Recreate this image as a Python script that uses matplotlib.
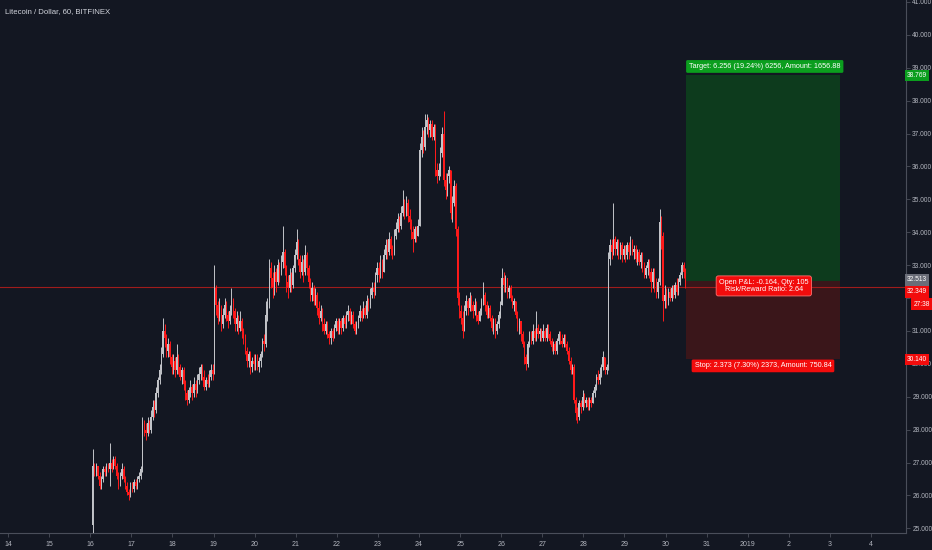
import matplotlib
matplotlib.use('Agg')
import matplotlib.pyplot as plt
import numpy as np

# ---------------- data ----------------
title = "Litecoin / Dollar, 60, BITFINEX"
start_day = 16      # December 16
start_hour = 1      # first candle 01:00
first_open = 25.1

close = [
    # Dec 16 (01h-23h)
    26.9,26.7,26.9,26.6,26.3,26.5,26.8,26.7,26.9,26.8,27.0,26.8,27.1,26.9,26.6,26.3,26.6,26.8,26.5,26.3,26.1,26.0,26.3,
    # Dec 17
    26.2,26.4,26.3,26.5,26.6,26.8,28.2,28.0,27.9,28.2,28.0,28.4,28.7,28.6,29.1,29.5,29.8,30.3,31.0,30.8,30.4,30.6,30.2,29.9,
    # Dec 18
    30.1,29.8,30.2,29.9,29.6,29.8,29.4,29.1,28.9,29.2,29.3,29.1,29.4,29.2,29.5,29.7,29.9,29.6,29.3,29.5,29.4,29.6,29.8,29.7,
    # Dec 19
    32.3,31.8,31.4,31.7,31.2,31.5,31.8,31.5,31.3,31.6,31.9,31.6,31.2,31.4,31.1,31.3,31.0,30.8,30.4,30.1,30.3,29.9,30.1,30.0,
    # Dec 20
    30.2,29.9,30.1,30.3,30.7,30.6,31.5,31.8,32.9,32.6,32.3,32.8,32.5,33.0,32.8,33.1,33.4,32.9,32.5,32.3,32.7,32.4,32.9,33.3,
    # Dec 21
    33.7,33.2,32.8,33.1,32.8,33.3,32.9,32.5,32.1,32.3,31.9,32.1,31.7,31.4,31.6,31.2,31.0,31.2,30.9,30.8,31.0,30.8,31.1,31.3,
    # Dec 22
    31.0,31.3,31.1,31.4,31.2,31.5,31.6,31.3,31.5,31.2,31.0,31.2,31.4,31.6,31.4,31.7,31.5,31.9,31.8,32.1,32.3,32.2,32.7,32.9,
    # Dec 23
    32.7,33.1,32.8,33.3,33.6,33.4,33.8,33.5,33.3,33.9,34.1,34.4,34.2,34.6,34.8,34.6,34.9,34.5,34.3,34.0,33.8,34.1,33.9,34.2,
    # Dec 24
    36.5,36.9,36.6,37.2,37.4,37.1,37.3,36.9,37.2,35.9,35.7,35.9,36.4,37.0,35.6,35.3,35.7,35.9,34.6,34.9,35.4,34.1,32.0,31.6,
    # Dec 25
    31.4,31.0,31.6,31.9,31.7,32.0,31.8,31.6,31.8,31.5,31.3,31.6,31.9,32.1,31.8,31.5,31.7,31.4,31.1,31.3,31.0,31.2,31.5,31.8,
    # Dec 26
    32.6,32.4,32.6,32.2,32.3,32.0,31.8,31.9,31.5,31.1,31.3,30.9,30.6,30.2,30.0,30.6,30.9,30.7,31.0,30.8,31.1,30.9,31.0,30.8,
    # Dec 27
    31.0,30.8,31.1,30.9,30.7,30.5,30.6,30.4,30.7,30.9,30.7,30.6,30.8,30.6,30.4,30.1,29.8,29.9,28.9,28.5,28.4,28.8,28.7,29.0,
    # Dec 28
    28.8,28.9,28.7,28.9,28.8,29.1,29.3,29.6,29.5,29.7,29.9,30.2,29.8,29.9,33.2,33.6,33.4,33.8,33.5,33.7,33.4,33.6,33.3,33.5,
    # Dec 29
    33.3,33.6,33.4,33.7,33.4,33.5,33.2,33.4,33.1,33.3,33.0,32.7,32.9,33.1,32.8,32.5,32.8,32.4,32.2,32.5,34.3,33.9,31.9,32.1,
    # Dec 30 (00h-11h)
    31.9,32.2,32.0,32.3,32.1,32.4,32.2,32.5,32.7,33.0,32.8,32.349,
]

high = [
    27.4,27.0,27.0,26.9,26.7,26.6,26.9,26.9,27.0,27.0,27.6,27.1,27.2,27.2,27.0,26.7,26.7,27.0,26.9,26.6,26.4,26.2,26.4,
    26.4,26.5,26.5,26.6,26.7,26.9,28.4,28.3,28.2,28.4,28.3,28.6,28.9,28.9,29.3,29.6,30.0,30.5,31.4,31.2,30.9,30.8,30.7,30.3,
    30.3,30.2,30.6,30.3,30.0,29.9,29.9,29.5,29.2,29.3,29.5,29.4,29.6,29.5,29.7,29.9,30.0,30.0,29.8,29.6,29.7,29.8,30.0,30.0,
    33.0,32.4,31.9,32.0,31.8,31.7,32.0,31.9,31.6,31.8,32.3,32.0,31.7,31.6,31.5,31.6,31.4,31.1,30.9,30.5,30.4,30.4,30.2,30.3,
    30.3,30.3,30.2,30.4,30.8,30.9,31.9,32.0,33.2,33.1,32.8,33.0,32.9,33.2,33.1,33.3,34.2,33.5,33.0,32.7,32.9,32.8,33.0,33.5,
    34.1,33.8,33.3,33.3,33.2,33.6,33.4,33.0,32.6,32.5,32.4,32.3,32.2,31.9,31.8,31.7,31.4,31.3,31.3,31.0,31.1,31.1,31.2,31.4,
    31.4,31.4,31.4,31.5,31.5,31.6,31.8,31.7,31.6,31.6,31.3,31.3,31.5,31.8,31.7,31.9,31.8,32.1,32.0,32.3,32.5,32.5,32.8,33.1,
    33.1,33.3,33.2,33.5,33.8,33.8,34.0,33.9,33.6,34.1,34.3,34.6,34.5,34.8,35.3,35.0,35.1,35.0,34.7,34.4,34.2,34.2,34.2,34.4,
    36.7,37.2,37.1,37.6,37.6,37.5,37.4,37.4,37.3,37.3,36.1,36.1,36.6,37.2,37.7,35.8,35.8,36.0,35.9,35.1,35.6,35.5,34.2,32.2,
    31.8,31.6,31.8,32.1,32.0,32.2,32.1,31.9,32.0,31.9,31.6,31.7,32.0,32.5,32.2,31.9,31.8,31.8,31.5,31.4,31.4,31.3,31.6,31.9,
    32.9,32.8,32.7,32.6,32.4,32.4,32.1,32.0,31.9,31.6,31.4,31.3,31.0,30.7,30.3,30.7,31.0,31.0,31.2,31.1,31.6,31.2,31.1,31.1,
    31.2,31.1,31.2,31.2,31.0,30.8,30.7,30.7,30.8,31.0,31.0,30.9,30.9,30.9,30.7,30.5,30.2,30.0,30.0,29.0,28.7,28.9,28.9,29.2,
    29.1,29.0,29.0,29.0,29.0,29.2,29.4,29.7,29.8,29.9,30.0,30.4,30.2,30.0,33.4,33.8,33.8,34.9,33.9,33.8,33.8,33.7,33.7,33.6,
    33.6,33.7,33.7,33.9,33.8,33.6,33.6,33.5,33.5,33.4,33.4,33.1,33.0,33.2,33.2,32.9,32.9,32.9,32.6,32.6,34.7,34.5,34.0,32.4,
    32.3,32.3,32.3,32.4,32.4,32.5,32.6,32.6,32.8,33.1,33.1,32.9,
]

low = [
    24.85,26.6,26.6,26.5,26.2,26.2,26.4,26.6,26.6,26.7,26.3,26.7,26.8,26.8,26.5,26.2,26.3,26.5,26.4,26.2,26.0,25.85,25.95,
    26.1,26.1,26.2,26.2,26.4,26.5,26.7,27.8,27.7,27.8,27.9,27.9,28.3,28.4,28.5,29.0,29.4,29.7,30.2,30.5,30.2,30.2,30.0,29.7,
    29.7,29.6,29.7,29.7,29.5,29.4,29.2,28.9,28.75,28.8,29.0,28.9,29.0,29.0,29.1,29.4,29.5,29.5,29.2,29.2,29.3,29.3,29.5,29.5,
    29.7,31.5,31.2,31.3,31.0,31.1,31.4,31.3,31.1,31.2,31.5,31.4,31.0,31.0,30.9,31.0,30.8,30.6,30.3,29.9,29.9,29.7,29.75,29.8,
    29.8,29.8,29.75,29.9,30.2,30.4,30.5,31.3,31.7,32.3,32.0,32.1,32.2,32.4,32.5,32.7,32.9,32.7,32.2,32.0,32.2,32.2,32.3,32.8,
    33.2,33.0,32.6,32.7,32.5,32.7,32.7,32.3,31.9,31.9,31.8,31.8,31.5,31.2,31.3,31.0,30.9,30.9,30.8,30.6,30.6,30.7,30.8,31.0,
    30.9,30.9,30.9,31.0,31.1,31.1,31.3,31.2,31.2,31.1,30.9,30.9,31.1,31.3,31.3,31.4,31.4,31.4,31.6,31.7,32.0,32.0,32.1,32.5,
    32.5,32.6,32.6,32.8,33.2,33.2,33.3,33.3,33.2,33.3,33.8,34.0,34.0,34.1,34.5,34.4,34.5,34.3,34.1,33.8,33.4,33.7,33.7,33.9,
    34.2,36.3,36.4,36.5,37.0,36.9,36.9,36.8,36.8,35.7,35.5,35.6,35.7,36.3,35.4,35.0,35.1,35.5,34.4,34.3,34.8,33.9,31.8,31.4,
    31.2,30.8,31.0,31.5,31.5,31.6,31.6,31.4,31.5,31.3,31.2,31.3,31.5,31.8,31.6,31.4,31.4,31.3,31.0,30.9,30.8,30.9,31.1,31.4,
    31.8,32.2,32.2,32.0,32.0,31.9,31.7,31.6,31.4,31.0,30.9,30.7,30.5,30.0,29.8,29.9,30.5,30.6,30.6,30.7,30.7,30.8,30.7,30.7,
    30.7,30.7,30.7,30.8,30.6,30.4,30.3,30.3,30.3,30.6,30.6,30.5,30.5,30.5,30.3,30.0,29.7,29.7,28.8,28.3,28.2,28.3,28.5,28.6,
    28.7,28.7,28.6,28.6,28.7,28.8,29.0,29.2,29.4,29.4,29.6,29.8,29.7,29.7,29.8,33.0,33.2,33.3,33.3,33.3,33.2,33.2,33.1,33.2,
    33.1,33.2,33.2,33.3,33.3,33.2,33.1,33.0,33.0,32.9,32.8,32.6,32.6,32.7,32.6,32.2,32.3,32.2,32.0,32.0,32.4,33.5,31.3,31.7,
    31.7,31.8,31.9,31.9,32.0,32.0,32.1,32.1,32.4,32.6,32.6,32.3,
]

price_ticks = [25, 26, 27, 28, 29, 30, 31, 32, 33, 34, 35, 36, 37, 38, 39, 40, 41]
day_ticks = list(range(14, 36))
day_labels = ['14', '15', '16', '17', '18', '19', '20', '21', '22', '23', '24', '25',
              '26', '27', '28', '29', '30', '31', '2019', '2', '3', '4']

entry_price = 32.513
target_price = 38.769
stop_price = 30.140
last_price = 32.349
pos_start_day = 30.5
pos_end_day = 34.24

target_text = "Target: 6.256 (19.24%) 6256, Amount: 1656.88"
pnl_text = "Open P&L: -0.164, Qty: 105\nRisk/Reward Ratio: 2.64"
stop_text = "Stop: 2.373 (7.30%) 2373, Amount: 750.84"
countdown = "27:38"

# ---------------- style ----------------
bg = '#131722'
up_col = '#c2c4c9'
dn_col = '#ff1a1a'
txt_col = '#b2b5be'
axis_col = '#4a4e5a'
fam = ['Liberation Sans', 'DejaVu Sans']
axis_fs = 4.8
box_fs = 5.2

fig = plt.figure(figsize=(9.32, 5.5), dpi=100, facecolor=bg)
ax = fig.add_axes([0, 17 / 550, 906 / 932, 533 / 550])
ax.set_facecolor(bg)
ax.set_xlim(13.805, 35.85)
ax.set_ylim(24.86, 41.06)

n = len(close)
c = np.array(close)
o = np.array([first_open] + close[:-1])
h = np.array(high)
l = np.array(low)
x = start_day + (start_hour + np.arange(n) + 0.5) / 24.0
up = c >= o
cols = np.where(up, up_col, dn_col)

# position tool
ax.add_patch(plt.Rectangle((pos_start_day, entry_price), pos_end_day - pos_start_day,
                           target_price - entry_price, facecolor='#0d3b1d', edgecolor='none', zorder=1))
ax.add_patch(plt.Rectangle((pos_start_day, stop_price), pos_end_day - pos_start_day,
                           entry_price - stop_price, facecolor='#3a161a', edgecolor='none', zorder=1))

# last price line
ax.axhline(last_price, color='#a01c1c', lw=0.8, zorder=2)

# candles
ax.vlines(x, l, h, colors=cols, lw=0.7, zorder=3)
body_h = np.maximum(np.abs(c - o), 0.025)
ax.bar(x, body_h, bottom=np.minimum(o, c), width=0.75 / 24, color=cols, linewidth=0, zorder=4)

# labels in position tool
ax.text(pos_start_day + 0.07, 39.04, target_text, fontsize=box_fs, family=fam, color='white',
        ha='left', va='center', zorder=6,
        bbox=dict(boxstyle='round,pad=0.4,rounding_size=0.2', facecolor='#0b9e1e', edgecolor='none'))
ax.text(32.39, 32.37, pnl_text, fontsize=box_fs, family=fam, color='white', ha='center', va='center',
        linespacing=1.05, zorder=6,
        bbox=dict(boxstyle='round,pad=0.4,rounding_size=0.3', facecolor='#f20c0c', edgecolor='#ff7070', lw=0.6))
ax.text(32.37, 29.94, stop_text, fontsize=box_fs, family=fam, color='white', ha='center', va='center', zorder=6,
        bbox=dict(boxstyle='round,pad=0.4,rounding_size=0.2', facecolor='#f20c0c', edgecolor='none'))

# axes styling
for s in ['top', 'left']:
    ax.spines[s].set_visible(False)
for s in ['right', 'bottom']:
    ax.spines[s].set_color(axis_col)
    ax.spines[s].set_linewidth(0.8)

ax.yaxis.tick_right()
ax.set_yticks(price_ticks)
ax.set_yticklabels(['' if v == 32 else f"{v:.3f}" for v in price_ticks])
ax.tick_params(axis='y', length=3, width=0.6, color=axis_col, labelcolor=txt_col, labelsize=axis_fs, pad=1.5)
ax.set_xticks(day_ticks)
ax.set_xticklabels(day_labels)
ax.tick_params(axis='x', length=3, width=0.6, color=axis_col, labelcolor=txt_col, labelsize=5.0, pad=3)
for lab in ax.get_xticklabels() + ax.get_yticklabels():
    lab.set_family(fam)

# price labels on the scale
ytr = ax.get_yaxis_transform()
def scale_label(yv, text, fc, tc='white', xoff=1.001):
    ax.text(xoff, yv, text, transform=ytr, fontsize=axis_fs, family=fam, color=tc, ha='left', va='center',
            zorder=7, clip_on=False,
            bbox=dict(boxstyle='square,pad=0.32', facecolor=fc, edgecolor='none'))

scale_label(target_price, f"{target_price:.3f}", '#0b9e1e')
scale_label(32.55, f"{entry_price:.3f}", '#6a6d78')
scale_label(32.185, f"{last_price:.3f}", '#f20c0c')
scale_label(31.82, countdown, '#f20c0c', xoff=1.008)
scale_label(stop_price, f"{stop_price:.3f}", '#f20c0c')

fig.text(5 / 932, 1 - 12 / 550, title, fontsize=5.6, family=fam, color='#d1d4dc', ha='left', va='center')

fig.savefig('out.png', dpi=100, facecolor=bg)
